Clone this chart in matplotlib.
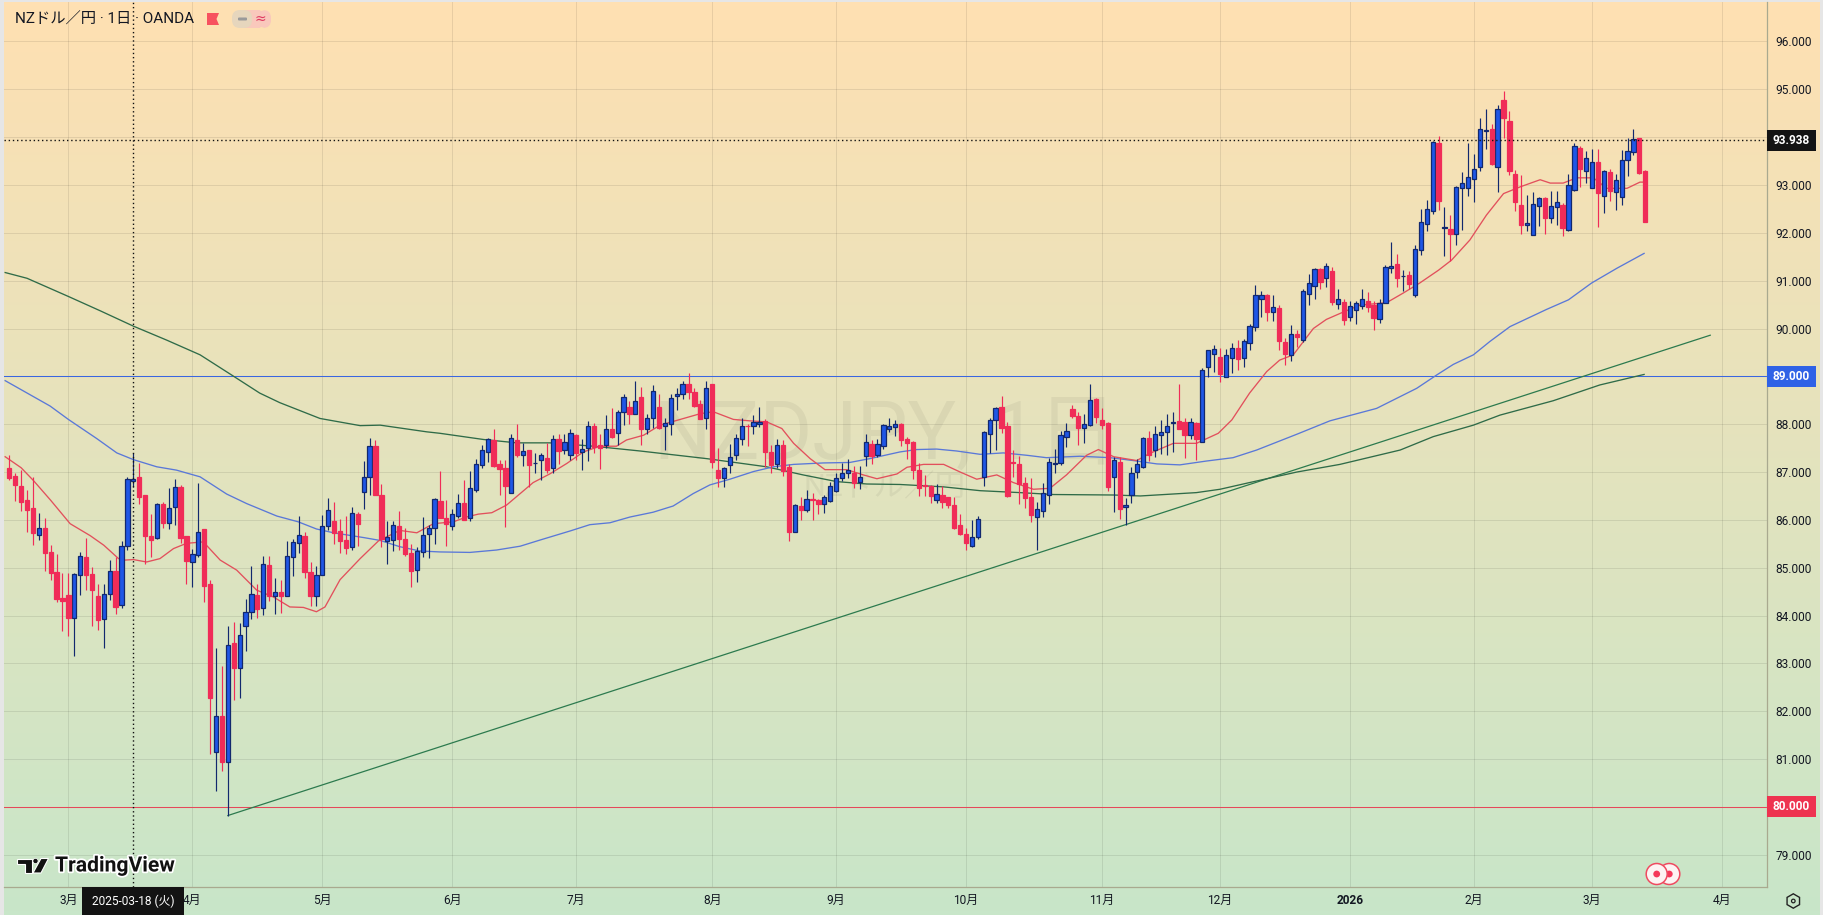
import matplotlib
matplotlib.use("Agg")
import matplotlib.pyplot as plt
import matplotlib.patheffects as pe
from matplotlib.patches import Rectangle, Circle, Polygon, RegularPolygon, FancyBboxPatch
from matplotlib.transforms import Affine2D
import numpy as np

plt.rcParams["font.family"] = ["Roboto", "Noto Sans CJK JP", "DejaVu Sans"]

W, H = 1824, 915

# daily candles
opens = [
    87.09, 86.91, 86.70, 86.41, 86.24, 85.69, 85.82, 85.32, 84.91, 84.36,
    84.43, 83.95, 84.84, 85.23, 84.86, 84.40, 83.92, 84.45, 84.94, 84.22,
    85.46, 86.82, 86.89, 86.51, 85.66, 85.62, 86.33, 85.94, 86.27, 86.68,
    85.67, 85.12, 85.26, 85.80, 84.67, 81.14, 81.90, 80.94, 83.42, 82.90,
    83.79, 84.07, 84.44, 84.16, 85.06, 84.41, 84.50, 84.41, 85.23, 85.52,
    85.66, 84.92, 84.41, 84.84, 85.87, 85.97, 85.76, 85.57, 85.44, 86.13,
    86.59, 86.90, 87.55, 86.53, 85.56, 85.57, 85.88, 85.61, 85.30, 84.96,
    85.32, 85.71, 85.84, 86.40, 86.04, 85.87, 86.08, 86.36, 86.04, 86.62,
    87.14, 87.42, 87.68, 87.16, 87.08, 86.57, 87.68, 87.36, 87.46, 87.18,
    87.26, 87.30, 87.08, 87.70, 87.46, 87.35, 87.77, 87.42, 87.51, 87.97,
    87.56, 87.57, 87.91, 87.82, 88.25, 88.35, 88.22, 88.56, 87.90, 88.14,
    88.35, 87.97, 88.00, 88.58, 88.64, 88.85, 88.68, 88.43, 88.13, 88.83,
    87.05, 86.88, 87.14, 87.36, 87.70, 87.97, 87.97, 88.01, 88.07, 87.42,
    87.17, 87.57, 87.10, 85.75, 86.30, 86.20, 86.43, 86.41, 86.34, 86.39,
    86.61, 86.88, 86.98, 86.99, 86.80, 87.33, 87.58, 87.35, 87.55, 87.90,
    87.95, 88.00, 87.70, 87.62, 87.05, 86.72, 86.71, 86.42, 86.53, 86.47,
    86.32, 85.90, 85.70, 85.46, 85.65, 86.90, 87.80, 88.09, 88.35, 87.96,
    87.21, 87.17, 86.78, 86.47, 86.06, 86.19, 86.52, 87.17, 87.19, 87.74,
    88.31, 88.18, 87.93, 87.99, 88.52, 88.09, 88.02, 86.90, 87.20, 86.26,
    86.52, 87.01, 87.11, 87.72, 87.46, 87.78, 87.84, 88.02, 88.06, 88.04,
    87.78, 88.02, 87.63, 89.20, 89.47, 89.40, 88.99, 89.39, 89.60, 89.39,
    89.69, 90.04, 90.62, 90.70, 90.35, 90.42, 89.71, 89.45, 89.88, 89.76,
    90.73, 90.89, 91.24, 91.06, 91.20, 90.52, 90.55, 90.25, 90.38, 90.48,
    90.57, 90.50, 90.20, 90.53, 91.27, 91.35, 91.09, 91.12, 90.71, 91.65,
    92.19, 92.46, 93.87, 92.10, 92.07, 91.98, 92.93, 92.93, 93.13, 93.38,
    94.13, 94.16, 93.38, 94.77, 94.33, 93.24, 92.59, 92.17, 91.96, 92.57,
    92.72, 92.30, 92.53, 92.59, 92.05, 92.89, 93.77, 93.29, 92.94, 93.48,
    92.77, 93.27, 92.86, 92.74, 93.53, 93.69, 93.98, 93.29,
]
highs = [
    87.35, 86.97, 87.04, 86.62, 86.90, 86.15, 86.03, 85.47, 85.28, 84.88,
    84.88, 84.89, 85.32, 85.63, 85.02, 84.65, 84.65, 85.17, 85.23, 85.55,
    86.90, 87.40, 87.18, 86.51, 86.13, 86.36, 86.38, 86.66, 86.86, 86.72,
    85.67, 85.39, 86.77, 85.80, 84.75, 83.33, 82.94, 83.79, 83.86, 83.84,
    84.34, 85.03, 84.66, 85.24, 85.25, 84.78, 84.74, 85.55, 85.60, 86.08,
    85.75, 85.12, 85.03, 86.10, 86.45, 86.37, 86.01, 86.08, 86.27, 86.17,
    87.23, 87.72, 87.68, 86.75, 85.97, 85.97, 86.18, 85.82, 85.50, 85.44,
    86.06, 85.89, 86.45, 87.03, 86.41, 86.22, 86.54, 86.83, 87.02, 87.27,
    87.56, 87.72, 87.91, 87.25, 87.25, 87.79, 88.00, 87.60, 87.47, 87.39,
    87.39, 87.60, 87.78, 87.79, 87.79, 87.89, 87.79, 87.70, 88.06, 88.02,
    87.79, 88.20, 88.33, 88.29, 88.63, 88.49, 88.90, 88.77, 88.22, 88.82,
    88.64, 88.12, 88.64, 88.75, 88.91, 89.06, 88.75, 88.50, 88.91, 88.85,
    87.51, 87.11, 87.58, 87.79, 88.12, 88.00, 88.19, 88.35, 88.10, 87.56,
    87.70, 87.67, 87.17, 86.34, 86.47, 86.62, 86.57, 86.43, 86.52, 86.80,
    86.98, 87.19, 87.28, 87.12, 87.13, 87.79, 87.67, 87.70, 88.00, 88.12,
    88.09, 88.03, 87.74, 87.65, 87.19, 86.94, 86.73, 86.74, 86.70, 86.48,
    86.48, 86.13, 85.82, 85.99, 86.08, 87.86, 88.14, 88.36, 88.59, 88.05,
    87.46, 87.33, 86.90, 86.87, 86.38, 86.78, 87.30, 87.49, 87.86, 88.02,
    88.40, 88.26, 88.22, 88.84, 88.54, 88.33, 88.05, 87.32, 87.32, 86.45,
    87.11, 87.28, 87.74, 87.86, 87.97, 88.09, 88.22, 88.26, 88.85, 88.14,
    88.12, 88.05, 89.17, 89.56, 89.65, 89.60, 89.58, 89.69, 89.76, 89.79,
    90.09, 90.91, 90.78, 90.72, 90.71, 90.50, 89.81, 90.07, 89.97, 90.82,
    91.14, 91.26, 91.26, 91.36, 91.28, 90.82, 90.62, 90.58, 90.58, 90.82,
    90.76, 90.58, 90.61, 91.33, 91.81, 91.56, 91.22, 91.21, 91.75, 92.49,
    92.68, 93.92, 94.02, 92.54, 92.37, 92.97, 93.27, 93.87, 93.64, 94.41,
    94.58, 94.28, 94.67, 94.96, 94.55, 93.32, 93.20, 92.80, 92.86, 92.75,
    92.74, 92.87, 92.87, 92.63, 93.22, 93.87, 93.82, 93.71, 93.75, 93.76,
    93.31, 93.34, 93.24, 93.74, 93.99, 94.18, 93.99, 93.32,
]
lows = [
    86.83, 86.40, 86.19, 85.75, 85.47, 85.57, 84.93, 84.74, 84.29, 83.68,
    83.57, 83.15, 84.43, 84.53, 83.78, 83.69, 83.32, 84.33, 84.03, 84.15,
    85.37, 86.69, 86.33, 85.07, 85.23, 85.60, 85.82, 85.80, 85.89, 85.52,
    84.67, 84.60, 85.23, 84.29, 81.10, 80.34, 80.76, 79.82, 82.23, 82.27,
    83.26, 83.93, 83.94, 84.01, 84.31, 84.03, 84.06, 84.40, 84.82, 85.31,
    84.79, 84.21, 84.20, 84.84, 85.78, 85.50, 85.30, 85.28, 85.37, 85.45,
    86.22, 86.52, 86.52, 85.44, 85.07, 85.35, 85.37, 85.25, 84.60, 84.70,
    85.23, 85.20, 85.50, 86.03, 85.45, 85.78, 86.03, 85.99, 85.98, 86.59,
    87.08, 87.21, 87.10, 86.52, 85.86, 86.57, 87.32, 87.12, 86.69, 86.97,
    86.83, 86.98, 86.98, 87.17, 87.37, 87.26, 87.25, 87.04, 87.24, 87.40,
    87.07, 87.51, 87.71, 87.56, 87.98, 88.00, 88.21, 87.56, 87.79, 87.93,
    87.89, 87.46, 87.77, 88.29, 88.52, 88.52, 88.35, 88.10, 87.89, 87.08,
    86.69, 86.68, 86.97, 87.26, 87.56, 87.54, 87.79, 87.95, 87.11, 86.98,
    87.08, 86.91, 85.56, 85.74, 85.99, 86.17, 86.00, 86.13, 86.15, 86.37,
    86.59, 86.82, 86.87, 86.66, 86.64, 87.13, 87.17, 87.32, 87.49, 87.84,
    87.75, 87.54, 87.28, 86.86, 86.50, 86.50, 86.36, 86.36, 86.25, 86.24,
    85.81, 85.68, 85.38, 85.44, 85.61, 86.71, 87.40, 87.46, 87.82, 86.48,
    86.90, 86.33, 86.24, 85.95, 85.37, 86.06, 86.33, 86.97, 87.14, 87.53,
    88.12, 87.56, 87.61, 87.96, 88.03, 87.91, 86.61, 86.17, 86.01, 85.89,
    86.36, 86.87, 87.08, 87.24, 87.32, 87.37, 87.35, 87.41, 87.89, 87.30,
    87.70, 87.26, 87.63, 88.99, 89.09, 88.89, 88.99, 89.08, 89.13, 89.20,
    89.55, 89.95, 90.25, 90.16, 90.16, 89.56, 89.24, 89.33, 89.62, 89.72,
    90.49, 90.62, 90.82, 90.87, 90.49, 90.40, 90.07, 90.16, 90.09, 90.41,
    90.35, 89.97, 90.12, 90.53, 91.15, 90.87, 90.79, 90.82, 90.65, 91.53,
    92.04, 92.40, 92.47, 91.52, 91.41, 91.74, 92.05, 92.77, 92.65, 93.29,
    93.76, 93.41, 92.86, 93.98, 93.20, 92.46, 91.98, 92.04, 91.95, 92.14,
    91.98, 92.21, 92.16, 91.94, 92.04, 92.88, 92.96, 93.04, 92.93, 92.12,
    92.42, 92.66, 92.47, 92.59, 93.18, 93.62, 93.22, 92.23,
]
closes = [
    86.88, 86.73, 86.38, 86.21, 85.73, 85.82, 85.31, 84.89, 84.35, 84.30,
    83.95, 84.86, 85.25, 84.84, 84.53, 83.90, 84.46, 84.94, 84.18, 85.45,
    86.85, 86.86, 86.47, 85.67, 85.57, 86.33, 85.94, 86.24, 86.68, 85.62,
    85.14, 85.28, 85.74, 84.62, 82.27, 81.91, 80.94, 83.38, 82.90, 83.59,
    84.07, 84.46, 84.14, 85.07, 84.41, 84.50, 84.41, 85.25, 85.53, 85.68,
    84.91, 84.41, 84.84, 85.88, 86.20, 85.73, 85.55, 85.42, 86.15, 85.92,
    86.90, 87.55, 86.52, 85.59, 85.65, 85.90, 85.60, 85.29, 84.93, 85.34,
    85.69, 85.84, 86.43, 86.04, 85.92, 86.13, 86.36, 86.00, 86.66, 87.16,
    87.46, 87.69, 87.12, 87.07, 86.71, 87.72, 87.35, 87.45, 87.14, 87.19,
    87.35, 87.04, 87.70, 87.44, 87.62, 87.81, 87.40, 87.48, 87.96, 87.53,
    87.51, 87.89, 87.73, 88.25, 88.56, 88.22, 88.48, 87.90, 88.14, 88.70,
    87.93, 88.02, 88.54, 88.63, 88.85, 88.68, 88.39, 88.11, 88.76, 87.20,
    86.88, 87.08, 87.32, 87.72, 87.96, 87.96, 88.04, 88.05, 87.42, 87.14,
    87.56, 87.02, 85.75, 86.32, 86.20, 86.43, 86.42, 86.34, 86.47, 86.70,
    86.87, 86.98, 87.05, 86.78, 86.89, 87.62, 87.34, 87.58, 87.99, 87.97,
    88.00, 87.67, 87.61, 87.05, 86.66, 86.71, 86.50, 86.55, 86.38, 86.32,
    85.82, 85.70, 85.52, 85.65, 86.01, 87.83, 88.08, 88.34, 87.93, 86.50,
    87.19, 86.74, 86.45, 86.10, 86.22, 86.57, 87.22, 87.19, 87.77, 87.86,
    88.18, 87.93, 88.00, 88.50, 88.16, 87.99, 86.68, 87.25, 86.23, 86.32,
    86.99, 87.16, 87.71, 87.35, 87.79, 87.83, 87.97, 88.04, 87.90, 87.78,
    88.04, 87.70, 89.14, 89.55, 89.58, 89.05, 89.44, 89.60, 89.37, 89.74,
    90.05, 90.70, 90.71, 90.35, 90.46, 89.74, 89.46, 89.88, 89.83, 90.78,
    90.96, 91.24, 90.98, 91.31, 90.56, 90.61, 90.18, 90.48, 90.53, 90.61,
    90.46, 90.22, 90.53, 91.28, 91.31, 91.06, 91.10, 90.93, 91.67, 92.23,
    92.49, 93.89, 92.66, 92.12, 91.98, 92.95, 93.05, 93.17, 93.34, 94.16,
    94.14, 93.43, 94.58, 94.41, 93.30, 92.65, 92.17, 92.21, 92.61, 92.72,
    92.31, 92.57, 92.65, 92.10, 93.01, 93.81, 93.34, 93.57, 93.48, 92.83,
    93.29, 92.88, 93.11, 93.53, 93.71, 93.97, 93.25, 92.23,
]

# moving averages, positions in candle numbers
ma_red_x = [0.3, 3, 5.1, 8, 11.3, 14.7, 17, 19.5, 20.6, 22, 24.25, 26.5, 28.8, 31, 33.85, 36.7, 39.5,
            42.9, 45.7, 48.5, 50.8, 53, 54.45, 57, 60.4, 63.5, 67.1, 70, 72.8, 76.2, 78.4, 80.4, 82.7,
            85.2, 87.5, 89.7, 92.5, 95.4, 98.2, 101, 103.8, 105.5, 108.4, 111.2, 114.6, 118, 120.2,
            123.6, 126.4, 129.2, 131.8, 133.8, 136.6, 139.1, 142.8, 145.6, 147.9, 151.3, 153, 155.8,
            159.2, 162, 164.8, 168.2, 171, 174.4, 177.2, 180, 183.4, 185.4, 188, 191.9, 194.1, 198.1,
            202, 205.7, 208, 211, 213.9, 216.1, 218.4, 221.8, 224, 226.6, 229.7, 234.2, 237, 239.8,
            243, 245.2, 248.3, 251.1, 254, 256.8, 260.2, 261.9, 264.1, 266.4, 269.2, 271.5, 274.9,
            277.1, 278]
ma_red_y = [87.32, 87.09, 86.82, 86.41, 85.92, 85.67, 85.47, 85.19, 85.16, 85.17, 85.12, 85.19, 85.40,
            85.51, 85.54, 85.16, 84.95, 84.53, 84.39, 84.18, 84.17, 84.08, 84.18, 84.75, 85.19, 85.56,
            85.78, 85.73, 85.92, 85.96, 86.06, 86.12, 86.15, 86.31, 86.55, 86.78, 86.96, 87.18, 87.42,
            87.54, 87.54, 87.67, 87.77, 87.98, 88.10, 88.22, 88.26, 88.10, 88.07, 88.05, 87.91, 87.60,
            87.28, 87.05, 87.05, 86.94, 86.86, 86.96, 87.10, 87.16, 87.16, 87.00, 86.85, 86.94, 86.78,
            86.64, 86.66, 86.94, 87.35, 87.47, 87.32, 87.24, 87.39, 87.60, 87.60, 87.81, 88.09, 88.65,
            89.10, 89.34, 89.45, 90.00, 90.19, 90.33, 90.49, 90.54, 90.74, 90.95, 91.22, 91.43, 91.85,
            92.37, 92.82, 92.96, 93.11, 93.04, 93.04, 93.15, 93.15, 92.93, 92.93, 93.06, 93.06]
ma_blue_x = [0.3, 7.9, 11, 15.8, 19.2, 22, 25.95, 29.3, 33.3, 37.8, 41.2, 46.3, 49.9, 53, 55.9, 61, 63.8,
             67.1, 70.5, 73.9, 79, 83.5, 87.5, 90.9, 96, 99.3, 102.7, 106.1, 110, 113.4, 116.8, 119.6,
             123, 127, 130.4, 133.8, 138.8, 143.3, 146.7, 151.8, 154.6, 158, 161.4, 165.4, 169.3, 173.3,
             176.6, 182.3, 187.4, 191.3, 195.3, 199.2, 203.7, 208.2, 212.2, 219, 224.6, 232.5, 239.3,
             242.7, 245.5, 248.9, 251.7, 255.1, 261.3, 265, 268.9, 273.2, 277.8]
ma_blue_y = [88.91, 88.38, 88.10, 87.70, 87.40, 87.26, 87.11, 87.04, 86.90, 86.54, 86.34, 86.08, 85.96,
             85.81, 85.73, 85.63, 85.57, 85.44, 85.35, 85.33, 85.32, 85.37, 85.45, 85.58, 85.77, 85.90,
             85.94, 86.06, 86.16, 86.29, 86.55, 86.73, 86.85, 87.01, 87.11, 87.16, 87.19, 87.20, 87.28,
             87.42, 87.47, 87.48, 87.44, 87.37, 87.40, 87.35, 87.30, 87.33, 87.30, 87.24, 87.17, 87.15,
             87.23, 87.30, 87.46, 87.79, 88.07, 88.33, 88.75, 89.03, 89.25, 89.45, 89.73, 90.04, 90.40,
             90.60, 90.95, 91.26, 91.57]
ma_green_x = [0.3, 4, 11, 16.4, 22, 27.6, 33.3, 39, 43.4, 46.8, 53.6, 60.4, 63.8, 71.7, 73.9, 81.3, 86.9,
              92.5, 99.9, 107.8, 119.1, 129.2, 135.4, 141.1, 146.2, 151.8, 159.2, 165.4, 172.1, 177.8,
              188, 192.5, 202, 206, 211, 219, 226.3, 236.5, 242.1, 248.9, 253.4, 262.4, 270.3, 277.8]
ma_green_y = [91.17, 91.05, 90.67, 90.37, 90.05, 89.76, 89.45, 89.00, 88.65, 88.45, 88.12, 87.97, 87.98,
              87.84, 87.81, 87.68, 87.61, 87.61, 87.54, 87.44, 87.28, 87.11, 86.94, 86.80, 86.75, 86.74,
              86.69, 86.61, 86.57, 86.53, 86.52, 86.50, 86.57, 86.64, 86.78, 87.00, 87.16, 87.46, 87.74,
              87.98, 88.19, 88.49, 88.82, 89.04]

trend_x = [38, 289]
trend_y = [79.82, 89.86]
level_blue = 89.0
level_red = 80.0
last_price = 93.938
cross_idx = 22

month_pos = [11, 32, 54, 76, 97, 120, 141, 163, 186, 206, 228, 249, 269, 291]
month_lab = ["3月", "4月", "5月", "6月", "7月", "8月", "9月", "10月", "11月", "12月", "2026", "2月", "3月", "4月"]
price_ticks = list(range(79, 97))

C_UP = "#1f56e6"
C_UP_EDGE = "#12286e"
C_DOWN = "#f02c58"
C_TEXT = "#131722"

fig = plt.figure(figsize=(W / 100, H / 100), dpi=100, facecolor="#e6e6e6")

# gradient background
bg = fig.add_axes([4 / W, 0, (1820 - 4) / W, (H - 2) / H], zorder=-1)
top = np.array([255, 224, 178]) / 255
bot = np.array([200, 230, 201]) / 255
t = np.linspace(0, 1, 256)[:, None, None]
bg.imshow(top * (1 - t) + bot * t, aspect="auto")
bg.axis("off")

ax = fig.add_axes([4 / W, (H - 887.3) / H, (1766.7 - 4) / W, (887.3 - 2) / H], facecolor="none")
ax.set_xlim(0.1, 298.56)
ax.set_ylim(78.32, 96.825)

for s in ("left", "top"):
    ax.spines[s].set_visible(False)
for s in ("right", "bottom"):
    ax.spines[s].set_color("#a9a98f")
    ax.spines[s].set_linewidth(0.9)

ax.yaxis.tick_right()
ax.set_yticks(price_ticks)
ax.set_yticklabels([f"{p}.000" for p in price_ticks], fontsize=8.6, color=C_TEXT)
ax.set_xticks(month_pos)
ax.set_xticklabels(month_lab, fontsize=8.6, color=C_TEXT)
ax.get_xticklabels()[month_lab.index("2026")].set_fontweight("bold")
ax.tick_params(axis="both", length=0)
ax.tick_params(axis="y", pad=6.5)
ax.tick_params(axis="x", pad=4.5)
ax.grid(True, color="#000000", alpha=0.09, linewidth=0.7, zorder=0)
ax.set_axisbelow(True)

px = Affine2D().scale(1, -1).translate(0, H)

# symbol watermark
ax.text(886, 437, "NZDJPY, 1日", transform=px, fontsize=58,
        color="#000000", alpha=0.05, ha="center", va="center", zorder=0.5)
ax.text(885, 488, "NZドル／円", transform=px, fontsize=22,
        color="#000000", alpha=0.05, ha="center", va="center", zorder=0.5)

# lines behind the candles
ax.axhline(level_blue, color="#3a66e0", lw=0.75, zorder=1)
ax.axhline(level_red, color="#e5485a", lw=0.75, zorder=1)
ax.plot(trend_x, trend_y, color="#2c7a4e", lw=0.9, zorder=1.5)
ax.plot(ma_green_x, ma_green_y, color="#2f6b48", lw=0.95, zorder=1.6)
ax.plot(ma_blue_x, ma_blue_y, color="#5a78d8", lw=0.95, zorder=1.7)
ax.plot(ma_red_x, ma_red_y, color="#e2505c", lw=0.95, zorder=1.8)

# candles
idx = np.arange(1, len(opens) + 1)
o = np.array(opens)
c = np.array(closes)
up = c >= o
wick_col = np.where(up, C_UP_EDGE, C_DOWN)
ax.vlines(idx, lows, highs, colors=wick_col, linewidth=0.85, zorder=2)
ax.bar(idx[up], (c - o)[up], bottom=o[up], width=0.72, color=C_UP, edgecolor=C_UP_EDGE, linewidth=0.9, zorder=3)
ax.bar(idx[~up], (o - c)[~up], bottom=c[~up], width=0.72, color=C_DOWN, edgecolor=C_DOWN, linewidth=0.9, zorder=3)

# crosshair and last price line
ax.axvline(cross_idx, color="#111111", lw=1.0, ls=(0, (1, 2)), zorder=4)
ax.axhline(last_price, color="#111111", lw=1.0, ls=(0, (1, 2)), zorder=4)


def box_label(x0, x1, yc, h, text, bg_col, bold=False):
    fig.add_artist(Rectangle((x0, yc - h / 2), x1 - x0, h, transform=px, fc=bg_col, ec="none", zorder=5))
    fig.text((x0 + x1) / 2, yc, text, transform=px, color="white", fontsize=8.6, ha="center", va="center",
             fontweight="bold" if bold else "normal", zorder=6)


def y_px(p):
    return ax.transData.transform((0, p))[1] * -1 + H


box_label(1766.7, 1816, y_px(last_price), 21, f"{last_price:.3f}", "#131313", bold=True)
box_label(1766.7, 1816, y_px(level_blue), 21, f"{level_blue:.3f}", "#2f62e6", bold=True)
box_label(1766.7, 1816, y_px(level_red), 21, f"{level_red:.3f}", "#ee3350", bold=True)
box_label(82, 184, 901, 28, "2025-03-18 (火)", "#131313", bold=False)

# title row
fig.text(15, 20, "NZドル／円 · 1日 · OANDA", transform=px, fontsize=11, color=C_TEXT, ha="left", va="center")
fig.add_artist(Polygon([(207, 13), (219, 13), (216.5, 19), (219, 25), (207, 25)], transform=px, fc="#f7525f", ec="none"))
fig.add_artist(FancyBboxPatch((241, 10), 21, 18, boxstyle="round,pad=0,rounding_size=4", transform=px, fc="#f8c9bb", ec="none"))
fig.add_artist(FancyBboxPatch((232, 10), 20, 18, boxstyle="round,pad=0,rounding_size=8", transform=px, fc="#e6d6bd", ec="none"))
fig.add_artist(Rectangle((252, 10), 8, 18, transform=px, fc="#f9c8bc", ec="none"))
fig.add_artist(FancyBboxPatch((258, 10), 13, 18, boxstyle="round,pad=0,rounding_size=8", transform=px, fc="#f9c8bc", ec="none"))
fig.add_artist(FancyBboxPatch((238, 17.5), 9, 3, boxstyle="round,pad=0,rounding_size=1", transform=px, fc="#9a9a9a", ec="none"))
fig.text(260, 19, "≈", transform=px, fontsize=10, color="#e03a60", ha="center", va="center", family="DejaVu Sans")

# TradingView mark
halo = [pe.withStroke(linewidth=2.5, foreground="white")]
logo = [
    Polygon([(17, 858.5), (32, 858.5), (32, 873), (25, 873), (25, 864), (17, 864)], transform=px, fc="#111111", ec="white", lw=0.8),
    Circle((35.5, 861), 2.6, transform=px, fc="#111111", ec="white", lw=0.5),
    Polygon([(41, 858.5), (48.5, 858.5), (41, 873), (33, 873)], transform=px, fc="#111111", ec="white", lw=0.8),
]
for p in logo:
    fig.add_artist(p)
fig.text(55, 866, "TradingView", transform=px, fontsize=15.2, fontweight="bold", color="#111111",
         ha="left", va="center", path_effects=halo)

# two event markers
for cx in (1669.3, 1656.7):
    fig.add_artist(Circle((cx, 874), 10.5, transform=px, fc="#fdf3f3", ec="#ef4a60", lw=1.1, zorder=5))
    fig.add_artist(Circle((cx, 874), 3.4, transform=px, fc="#f5395a", ec="none", zorder=5))

# settings icon
fig.add_artist(RegularPolygon((1793.3, 901), 6, radius=7.2, transform=px, fc="none", ec="#222222", lw=1.0, zorder=5))
fig.add_artist(Circle((1793.3, 901), 1.8, transform=px, fc="none", ec="#222222", lw=0.9, zorder=5))

fig.savefig("out.png", dpi=100)
plt.close()
